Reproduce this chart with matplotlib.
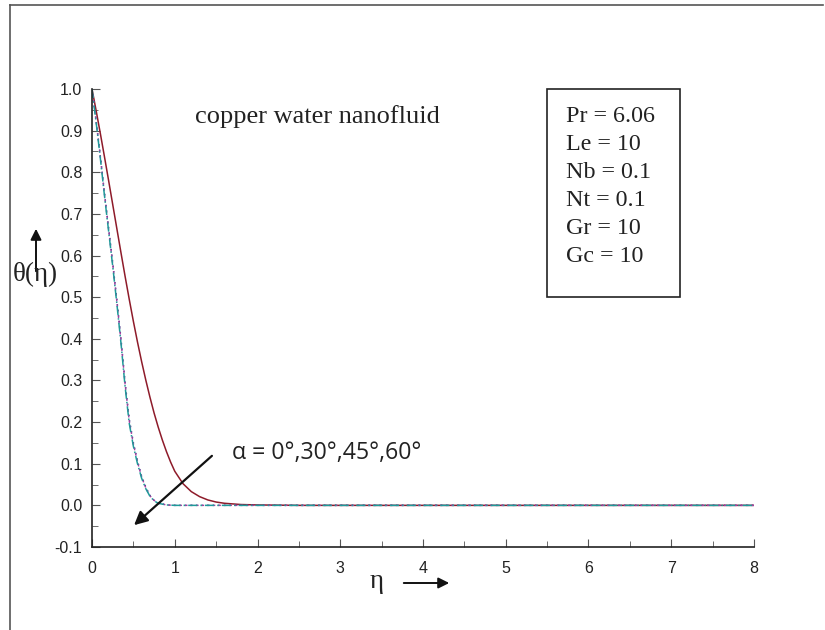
import matplotlib

matplotlib.use("Agg")
import matplotlib.pyplot as plt
from matplotlib.lines import Line2D
from matplotlib.patches import FancyArrowPatch, Rectangle
from matplotlib.ticker import MultipleLocator

# values
eta_red = [0.0, 0.05, 0.1, 0.15, 0.2, 0.25, 0.3, 0.35, 0.4, 0.45, 0.5, 0.55, 0.6, 0.65, 0.7,
           0.75, 0.8, 0.85, 0.9, 0.95, 1.0, 1.1, 1.2, 1.3, 1.4, 1.5, 1.6, 1.8, 2.0, 2.5, 8.0]
theta_red = [1.0, 0.948, 0.894, 0.838, 0.781, 0.723, 0.665, 0.607, 0.55, 0.495, 0.442, 0.392,
             0.345, 0.301, 0.26, 0.222, 0.188, 0.157, 0.129, 0.104, 0.082, 0.052, 0.033, 0.021,
             0.013, 0.008, 0.005, 0.002, 0.001, 0.0, 0.0]

eta_dash = [0.0, 0.05, 0.1, 0.15, 0.2, 0.25, 0.3, 0.35, 0.4, 0.45, 0.5, 0.55, 0.6, 0.65, 0.7,
            0.75, 0.8, 0.9, 1.0, 8.0]
theta_teal = [1.0, 0.92, 0.835, 0.745, 0.66, 0.575, 0.485, 0.39, 0.285, 0.197, 0.142, 0.10,
              0.065, 0.04, 0.022, 0.011, 0.005, 0.001, 0.0, 0.0]
theta_purple = [1.0, 0.922, 0.838, 0.749, 0.664, 0.58, 0.49, 0.396, 0.291, 0.203, 0.147, 0.104,
                0.068, 0.042, 0.023, 0.012, 0.005, 0.001, 0.0, 0.0]
theta_navy = [1.0, 0.924, 0.841, 0.752, 0.668, 0.584, 0.495, 0.401, 0.296, 0.208, 0.151, 0.107,
              0.07, 0.044, 0.024, 0.012, 0.006, 0.001, 0.0, 0.0]

params = ["Pr = 6.06", "Le = 10", "Nb = 0.1", "Nt = 0.1", "Gr = 10", "Gc = 10"]
x_ticks = [0, 1, 2, 3, 4, 5, 6, 7, 8]
y_ticks = [-0.1, 0.0, 0.1, 0.2, 0.3, 0.4, 0.5, 0.6, 0.7, 0.8, 0.9, 1.0]

W, H = 825, 630
fig = plt.figure(figsize=(W / 100, H / 100), dpi=100)
ax = fig.add_axes([92 / W, 1 - 547 / H, (754 - 92) / W, (547 - 89) / H])

ax.plot(eta_red, theta_red, color="#8e1b2a", lw=1.1)
ax.plot(eta_dash, theta_navy, color="#1f2a7a", lw=1.0, ls=(0, (1, 3)))
ax.plot(eta_dash, theta_purple, color="#a040a0", lw=1.0, ls=(0, (2, 2)))
ax.plot(eta_dash, theta_teal, color="#1f9a9a", lw=1.1, ls=(0, (6, 2, 1, 2)))

ax.set_xlim(0, 8)
ax.set_ylim(-0.1, 1.0)
ax.set_xticks(x_ticks)
ax.set_yticks(y_ticks)
ax.set_xticklabels([str(t) for t in x_ticks])
ax.set_yticklabels([f"{t:.1f}" for t in y_ticks])
ax.xaxis.set_minor_locator(MultipleLocator(0.5))
ax.yaxis.set_minor_locator(MultipleLocator(0.05))
for side in ("top", "right"):
    ax.spines[side].set_visible(False)
for side in ("left", "bottom"):
    ax.spines[side].set_color("#222222")
    ax.spines[side].set_linewidth(1.2)
ax.tick_params(which="both", direction="in", color="#555555", labelsize=11.5,
               labelcolor="#222222", labelfontfamily="Liberation Sans")
ax.tick_params(which="major", length=6)
ax.tick_params(which="minor", length=4)
ax.tick_params(axis="x", pad=10)
ax.tick_params(axis="y", pad=7)

fig.text(317 / W, 1 - 123 / H, "copper water nanofluid", ha="center", va="baseline",
         family="Liberation Serif", fontsize=19, color="#222222")

# parameter box
fig.patches.append(Rectangle((547 / W, 1 - 297 / H), (680 - 547) / W, (297 - 89) / H,
                             transform=fig.transFigure, fill=False, ec="#222222", lw=1.2))
for i, line in enumerate(params):
    fig.text(566 / W, 1 - (122 + i * 28) / H, line, ha="left", va="baseline",
             family="Liberation Serif", fontsize=17.3, color="#222222")

# y label with arrow
fig.text(35 / W, 1 - 281 / H, "θ(η)", ha="center", va="baseline",
         family="Liberation Serif", fontsize=19.5, color="#222222")
fig.add_artist(FancyArrowPatch((36 / W, 1 - 274 / H), (36 / W, 1 - 226 / H),
                               transform=fig.transFigure, arrowstyle="-|>",
                               mutation_scale=16, lw=1.4, color="#111111"))

# x label with arrow
fig.text(377 / W, 1 - 588 / H, "η", ha="center", va="baseline",
         family="Liberation Serif", fontsize=19.5, color="#222222")
fig.add_artist(FancyArrowPatch((401 / W, 1 - 583 / H), (452 / W, 1 - 583 / H),
                               transform=fig.transFigure, arrowstyle="-|>",
                               mutation_scale=16, lw=1.4, color="#111111"))

# alpha annotation
fig.text(232 / W, 1 - 453 / H, "α = 0°,30°,45°,60°", ha="left", va="center",
         family="Open Sans", fontsize=16.7, color="#222222")
fig.add_artist(FancyArrowPatch((214 / W, 1 - 454 / H), (132 / W, 1 - 527 / H),
                               transform=fig.transFigure, arrowstyle="-|>",
                               mutation_scale=20, lw=1.6, color="#111111"))

# outer frame lines
fig.add_artist(Line2D([9.5 / W, 823 / W], [1 - 5 / H, 1 - 5 / H], transform=fig.transFigure,
                      color="#555555", lw=1.2))
fig.add_artist(Line2D([9.5 / W, 9.5 / W], [1 - 5 / H, 0.0], transform=fig.transFigure,
                      color="#555555", lw=1.2))

fig.savefig("out.png", dpi=100)
